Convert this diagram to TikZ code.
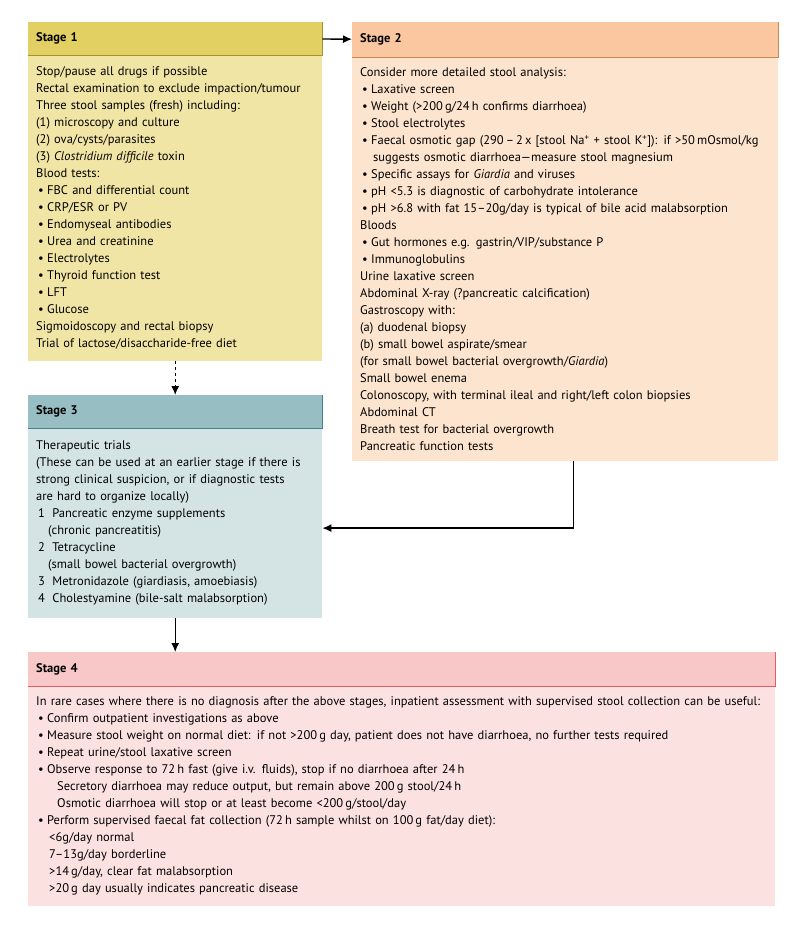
\documentclass[tikz,border=0pt]{standalone}
\usepackage{fontspec}
\setmainfont{PT Sans}
\usetikzlibrary{arrows.meta,calc,positioning}
\definecolor{oneh}{RGB}{227,208,98}
\definecolor{oneb}{RGB}{241,229,166}
\definecolor{onee}{RGB}{165,145,45}
\definecolor{twoh}{RGB}{250,199,161}
\definecolor{twob}{RGB}{252,228,206}
\definecolor{twoe}{RGB}{205,135,80}
\definecolor{thrh}{RGB}{151,190,195}
\definecolor{thrb}{RGB}{212,228,228}
\definecolor{thre}{RGB}{70,130,140}
\definecolor{fouh}{RGB}{248,200,200}
\definecolor{foub}{RGB}{252,225,225}
\definecolor{foue}{RGB}{232,90,100}
\tikzstyle{hd}=[anchor=north west,inner xsep=8pt,align=left,font=\bfseries\fontsize{12.5}{17}\selectfont]
\tikzstyle{bd}=[anchor=north west,inner xsep=8pt,align=left,font=\fontsize{12.5}{17}\selectfont]
\newcommand\bit{\hspace*{2pt}\makebox[9pt][l]{\textbullet}}
\newcommand\ind{\hspace*{11pt}}
\newcommand\nr[1]{\hspace*{2pt}\makebox[10pt][l]{#1}}
\begin{document}
\begin{tikzpicture}[
      >={Latex[length=9pt,width=8pt]},
      x=1pt,y=-1pt
    ]
     \useasboundingbox (0,0) rectangle (800,935);

     % stage 1
     \node [hd,fill=oneh,text width=278pt,minimum height=33pt] (s1h) at (28,22) {Stage 1};
     \node [bd,fill=oneb,text width=278pt,minimum height=305pt] (s1b) at (s1h.south west) {Stop/pause all drugs if possible\\
       Rectal examination to exclude impaction/tumour\\
       Three stool samples (fresh) including:\\
       (1) microscopy and culture\\
       (2) ova/cysts/parasites\\
       (3) \textit{Clostridium difficile} toxin\\
       Blood tests:\\
       \bit FBC and differential count\\
       \bit CRP/ESR or PV\\
       \bit Endomyseal antibodies\\
       \bit Urea and creatinine\\
       \bit Electrolytes\\
       \bit Thyroid function test\\
       \bit LFT\\
       \bit Glucose\\
       Sigmoidoscopy and rectal biopsy\\
       Trial of lactose/disaccharide-free diet};
     \draw [onee,line width=1.2pt] (s1h.north east) -- (s1h.south east) -- (s1h.south west);

     % stage 2
     \node [hd,fill=twoh,text width=410pt,minimum height=35pt] (s2h) at (352,22) {Stage 2};
     \node [bd,fill=twob,text width=410pt,minimum height=403pt] (s2b) at (s2h.south west) {Consider more detailed stool analysis:\\
       \bit Laxative screen\\
       \bit Weight (>200\,g/24\,h confirms diarrhoea)\\
       \bit Stool electrolytes\\
       \bit Faecal osmotic gap (290\,–\,2\,x [stool Na\textsuperscript{+} + stool K\textsuperscript{+}]): if >50\,mOsmol/kg\\
       \hspace*{2pt}\ind suggests osmotic diarrhoea—measure stool magnesium\\
       \bit Specific assays for \textit{Giardia} and viruses\\
       \bit pH <5.3 is diagnostic of carbohydrate intolerance\\
       \bit pH >6.8 with fat 15–20g/day is typical of bile acid malabsorption\\
       Bloods\\
       \bit Gut hormones e.g. gastrin/VIP/substance P\\
       \bit Immunoglobulins\\
       Urine laxative screen\\
       Abdominal X-ray (?pancreatic calcification)\\
       Gastroscopy with:\\
       (a) duodenal biopsy\\
       (b) small bowel aspirate/smear\\
       (for small bowel bacterial overgrowth/\textit{Giardia})\\
       Small bowel enema\\
       Colonoscopy, with terminal ileal and right/left colon biopsies\\
       Abdominal CT\\
       Breath test for bacterial overgrowth\\
       Pancreatic function tests};
     \draw [twoe,line width=1.2pt] (s2h.north east) -- (s2h.south east) -- (s2h.south west);

     % stage 3
     \node [hd,fill=thrh,text width=278pt,minimum height=33pt] (s3h) at (28,395) {Stage 3};
     \node [bd,fill=thrb,text width=278pt,minimum height=189pt] (s3b) at (s3h.south west) {Therapeutic trials\\
       (These can be used at an earlier stage if there is\\
       strong clinical suspicion, or if diagnostic tests\\
       are hard to organize locally)\\
       \nr{1} Pancreatic enzyme supplements\\
       \hspace*{12pt}(chronic pancreatitis)\\
       \nr{2} Tetracycline\\
       \hspace*{12pt}(small bowel bacterial overgrowth)\\
       \nr{3} Metronidazole (giardiasis, amoebiasis)\\
       \nr{4} Cholestyamine (bile-salt malabsorption)};
     \draw [thre,line width=1.2pt] (s3h.north east) -- (s3h.south east) -- (s3h.south west);

     % stage 4
     \node [hd,fill=fouh,text width=731pt,minimum height=34pt] (s4h) at (28,652) {Stage 4};
     \node [bd,fill=foub,text width=731pt,minimum height=219pt] (s4b) at (s4h.south west) {In rare cases where there is no diagnosis after the above stages, inpatient assessment with supervised stool collection can be useful:\\
       \bit Confirm outpatient investigations as above\\
       \bit Measure stool weight on normal diet: if not >200\,g day, patient does not have diarrhoea, no further tests required\\
       \bit Repeat urine/stool laxative screen\\
       \bit Observe response to 72\,h fast (give i.v. fluids), stop if no diarrhoea after 24\,h\\
       \hspace*{21pt}Secretory diarrhoea may reduce output, but remain above 200\,g stool/24\,h\\
       \hspace*{21pt}Osmotic diarrhoea will stop or at least become <200\,g/stool/day\\
       \bit Perform supervised faecal fat collection (72\,h sample whilst on 100\,g fat/day diet):\\
       \hspace*{2pt}\ind <6g/day normal\\
       \hspace*{2pt}\ind 7–13g/day borderline\\
       \hspace*{2pt}\ind >14\,g/day, clear fat malabsorption\\
       \hspace*{2pt}\ind >20\,g day usually indicates pancreatic disease};
     \draw [foue,line width=1.2pt] (s4h.north east) -- (s4h.south east) -- (s4h.south west);

      \draw[->,line width=1.3pt] (s1h) -- (s2h);
      \draw[->,line width=1.3pt,dashed] (s1b) -- (s3h);
      \draw[->,line width=1.3pt] ([xshift=8pt]s2b.south) |- ([yshift=-5pt]s3b.east);
      \draw[->,line width=1.3pt] (s3b.south) -- (s3b.south |- s4h.north);
    \end{tikzpicture}
\end{document}
